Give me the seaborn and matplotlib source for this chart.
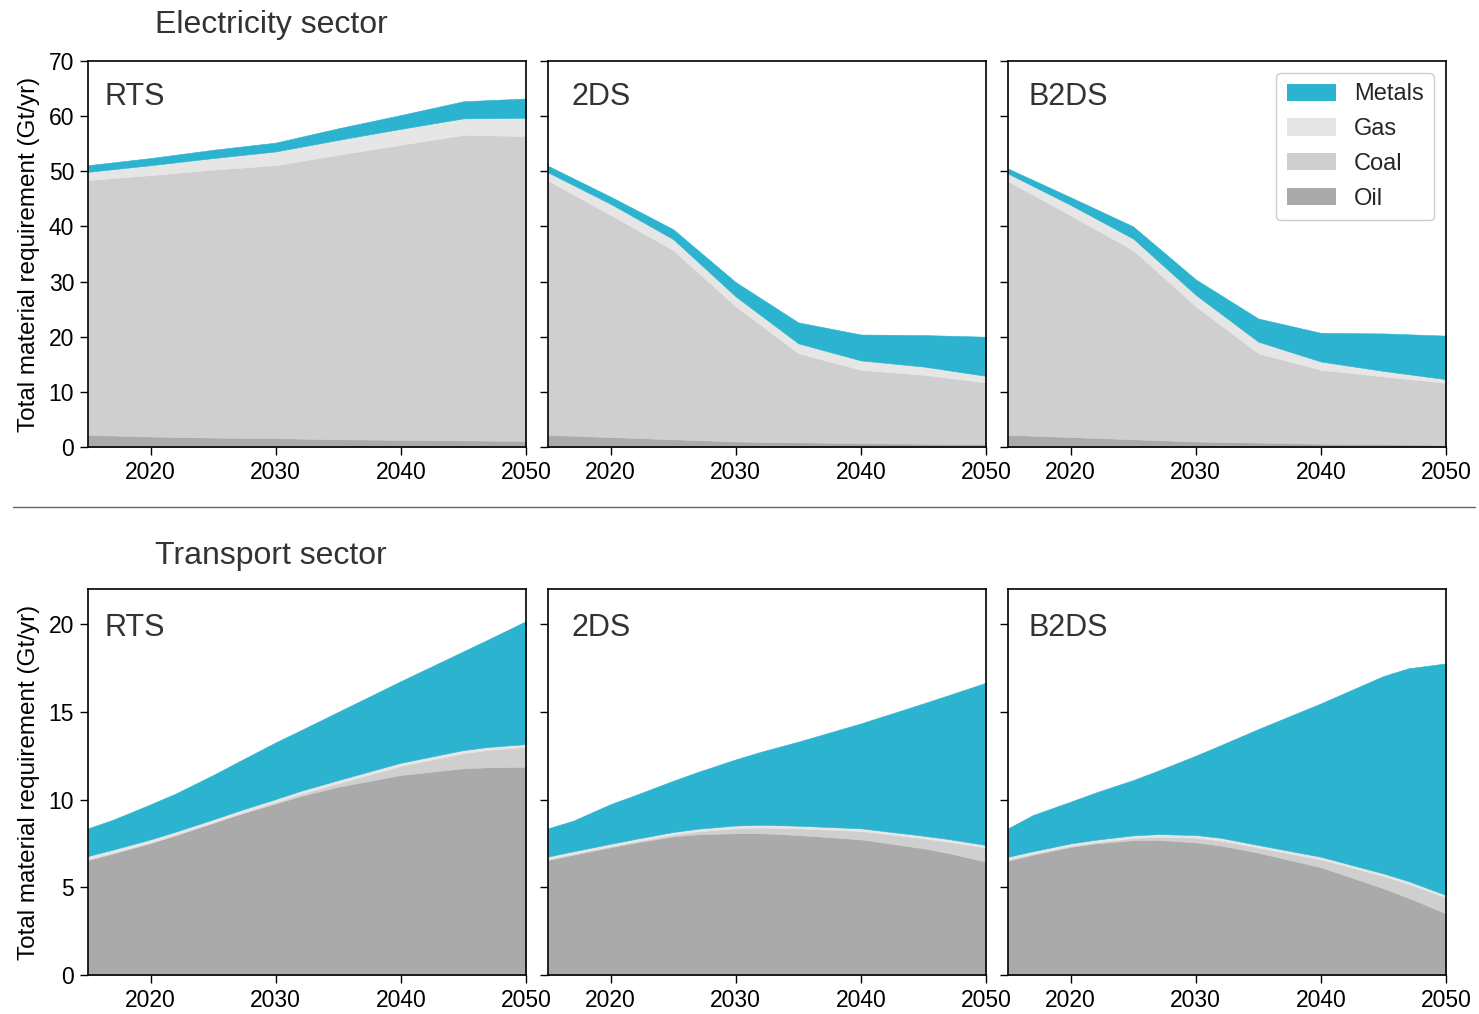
import matplotlib
matplotlib.use("Agg")
import matplotlib.pyplot as plt
from matplotlib.patches import Patch
from matplotlib.lines import Line2D
import seaborn as sns

# ---------------------------------------------------------------
# Data (Gt/yr), stacked bottom to top: Oil, Coal, Gas, Metals
# ---------------------------------------------------------------
scenarios = ["RTS", "2DS", "B2DS"]
materials = ["Oil", "Coal", "Gas", "Metals"]

# Electricity sector, 5-year steps
elec_years = [2015, 2020, 2025, 2030, 2035, 2040, 2045, 2050]

elec_rts_oil = [2.2, 1.9, 1.7, 1.6, 1.4, 1.3, 1.2, 1.1]
elec_rts_coal = [46.2, 47.4, 48.6, 49.5, 51.6, 53.5, 55.4, 55.3]
elec_rts_gas = [1.5, 1.8, 2.1, 2.5, 2.7, 2.9, 3.0, 3.3]
elec_rts_metals = [1.2, 1.3, 1.5, 1.6, 2.1, 2.5, 3.1, 3.5]

elec_2ds_oil = [2.2, 1.8, 1.4, 1.0, 0.85, 0.7, 0.6, 0.5]
elec_2ds_coal = [46.1, 40.3, 34.3, 24.5, 16.15, 13.3, 12.5, 11.2]
elec_2ds_gas = [1.5, 2.0, 2.0, 1.8, 1.8, 1.7, 1.5, 1.2]
elec_2ds_metals = [1.2, 1.3, 1.8, 2.6, 3.8, 4.7, 5.7, 7.1]

elec_b2ds_oil = [2.2, 1.8, 1.4, 1.0, 0.8, 0.6, 0.5, 0.4]
elec_b2ds_coal = [46.0, 40.2, 34.3, 24.5, 16.2, 13.4, 12.3, 11.2]
elec_b2ds_gas = [1.4, 1.9, 2.1, 2.1, 2.1, 1.5, 1.0, 0.7]
elec_b2ds_metals = [0.9, 1.4, 2.2, 2.8, 4.2, 5.2, 6.8, 7.9]

# Transport sector
trans_years = [2015, 2017, 2020, 2022, 2025, 2027, 2030, 2032, 2035,
               2040, 2045, 2047, 2050]

trans_rts_oil = [6.55, 6.93, 7.52, 7.97, 8.68, 9.15, 9.78, 10.20, 10.73,
                 11.40, 11.78, 11.84, 11.87]
trans_rts_coal = [0.05, 0.04, 0.03, 0.02, 0.01, 0.02, 0.07, 0.12, 0.20,
                  0.52, 0.86, 0.99, 1.13]
trans_rts_gas = [0.18, 0.18, 0.18, 0.18, 0.18, 0.18, 0.18, 0.18, 0.18,
                 0.18, 0.18, 0.17, 0.16]
trans_rts_metals = [1.58, 1.70, 2.00, 2.17, 2.53, 2.80, 3.23, 3.45, 3.89,
                    4.65, 5.63, 6.13, 7.01]

trans_2ds_oil = [6.55, 6.85, 7.28, 7.55, 7.90, 8.02, 8.08, 8.08, 7.98,
                 7.73, 7.22, 6.95, 6.46]
trans_2ds_coal = [0.05, 0.05, 0.05, 0.06, 0.10, 0.17, 0.29, 0.33, 0.38,
                  0.48, 0.57, 0.65, 0.80]
trans_2ds_gas = [0.15, 0.15, 0.15, 0.15, 0.15, 0.15, 0.15, 0.15, 0.15,
                 0.15, 0.15, 0.15, 0.15]
trans_2ds_metals = [1.61, 1.74, 2.26, 2.50, 2.92, 3.24, 3.77, 4.16, 4.79,
                    5.98, 7.54, 8.20, 9.25]

trans_b2ds_oil = [6.51, 6.85, 7.30, 7.50, 7.68, 7.70, 7.56, 7.38, 6.97,
                  6.14, 4.94, 4.40, 3.51]
trans_b2ds_coal = [0.08, 0.06, 0.05, 0.06, 0.13, 0.18, 0.27, 0.29, 0.29,
                   0.45, 0.70, 0.80, 0.90]
trans_b2ds_gas = [0.15, 0.15, 0.15, 0.15, 0.15, 0.15, 0.15, 0.15, 0.15,
                  0.15, 0.15, 0.15, 0.15]
trans_b2ds_metals = [1.62, 2.06, 2.38, 2.69, 3.15, 3.62, 4.52, 5.28, 6.61,
                     8.74, 11.25, 12.13, 13.20]

electricity = {
    "RTS": [elec_rts_oil, elec_rts_coal, elec_rts_gas, elec_rts_metals],
    "2DS": [elec_2ds_oil, elec_2ds_coal, elec_2ds_gas, elec_2ds_metals],
    "B2DS": [elec_b2ds_oil, elec_b2ds_coal, elec_b2ds_gas, elec_b2ds_metals],
}
transport = {
    "RTS": [trans_rts_oil, trans_rts_coal, trans_rts_gas, trans_rts_metals],
    "2DS": [trans_2ds_oil, trans_2ds_coal, trans_2ds_gas, trans_2ds_metals],
    "B2DS": [trans_b2ds_oil, trans_b2ds_coal, trans_b2ds_gas, trans_b2ds_metals],
}

colors = {"Oil": "#aaaaaa", "Coal": "#cfcfcf", "Gas": "#e6e6e6", "Metals": "#2bb3cf"}

# ---------------------------------------------------------------
# Style
# ---------------------------------------------------------------
sns.set_theme(style="ticks")
plt.rcParams["font.family"] = ["Liberation Sans", "DejaVu Sans"]
plt.rcParams["axes.edgecolor"] = "black"
plt.rcParams["axes.linewidth"] = 1.2

W, H = 1479, 1014
fig = plt.figure(figsize=(W / 100, H / 100), dpi=100)

col_left = [88, 548, 1008]
ax_w = 438
rows = {"elec": (61, 447), "trans": (589, 975)}
label_x = {"RTS": 0.037, "2DS": 0.053, "B2DS": 0.047}


def make_axes(row):
    top, bottom = rows[row]
    axes = []
    for x0 in col_left:
        ax = fig.add_axes([x0 / W, 1 - bottom / H, ax_w / W, (bottom - top) / H])
        axes.append(ax)
    return axes


def draw_row(axes, years, data, ylim, yticks, label_y):
    for i, (ax, name) in enumerate(zip(axes, scenarios)):
        series = data[name]
        ax.stackplot(years, *series,
                     colors=[colors[m] for m in materials],
                     edgecolor="face", linewidth=0.4)
        ax.set_xlim(2015, 2050)
        ax.set_ylim(*ylim)
        ax.set_xticks([2020, 2030, 2040, 2050])
        ax.set_yticks(yticks)
        ax.tick_params(axis="both", direction="out", length=6, width=1.0,
                       labelsize=16.5, colors="black", pad=4)
        if i > 0:
            ax.tick_params(axis="y", labelleft=False)
        else:
            ax.set_ylabel("Total material requirement (Gt/yr)", fontsize=17.5,
                          color="black", labelpad=6)
        for sp in ax.spines.values():
            sp.set_color("black")
            sp.set_linewidth(1.2)
        ax.text(label_x[name], label_y, name, transform=ax.transAxes,
                fontsize=22, color="#333333", ha="left", va="center")
        ax.grid(False)


elec_axes = make_axes("elec")
trans_axes = make_axes("trans")

draw_row(elec_axes, elec_years, electricity, (0, 70), range(0, 71, 10), 0.907)
draw_row(trans_axes, trans_years, transport, (0, 22), range(0, 21, 5), 0.899)

# Legend in the top-right panel
handles = [Patch(facecolor=colors[m], edgecolor="none", label=m)
           for m in ["Metals", "Gas", "Coal", "Oil"]]
elec_axes[2].legend(handles=handles, loc="upper right", fontsize=17,
                    frameon=True, fancybox=True, edgecolor="#cccccc",
                    framealpha=1.0, handlelength=2.1, handleheight=0.75,
                    labelspacing=0.54, handletextpad=0.75, borderpad=0.45,
                    borderaxespad=0.5)

# Section titles
fig.text(155 / W, 1 - 25 / H, "Electricity sector", fontsize=23,
         color="#333333", ha="left", va="center")
fig.text(155 / W, 1 - 556 / H, "Transport sector", fontsize=23,
         color="#333333", ha="left", va="center")

# Separator between the two sectors
fig.add_artist(Line2D([13 / W, 1475 / W], [1 - 507 / H, 1 - 507 / H],
                      transform=fig.transFigure, color="#666666", linewidth=1.0))

fig.savefig("out.png", dpi=100)
